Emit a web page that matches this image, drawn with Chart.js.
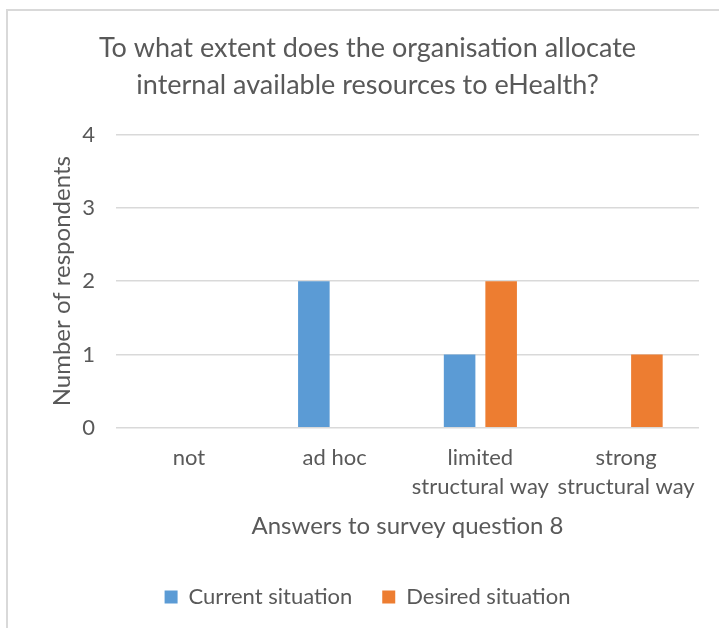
<!DOCTYPE html>
<html>
<head>
<meta charset="utf-8">
<script src="https://cdn.jsdelivr.net/npm/chart.js@4/dist/chart.umd.min.js"></script>
<style>
  html, body { margin: 0; padding: 0; background: #fff; }
  #wrap { position: relative; width: 719px; height: 628px; }
  #frame {
    position: absolute; left: 6px; top: 9px; right: -4px; bottom: -4px;
    border-top: 2px solid #d9d9d9; border-left: 2px solid #d9d9d9;
  }
  canvas { position: absolute; left: 0; top: 0; }
</style>
</head>
<body>
<div id="wrap">
  <div id="frame"></div>
  <canvas id="surveyChart" width="719" height="628"></canvas>
</div>
<script>
const categories = ['not', 'ad hoc', ['limited', 'structural way'], ['strong', 'structural way']];
const currentSituation = [0, 2, 1, 0];
const desiredSituation = [0, 0, 2, 1];
const yTicks = [0, 1, 2, 3, 4];

const textColor = '#595959';
const fontFamily = 'Lato, "Open Sans", sans-serif';

const ctx = document.getElementById('surveyChart');
const surveyChart = new Chart(ctx, {
  type: 'bar',
  data: {
    labels: categories,
    datasets: [
      {
        label: 'Current situation',
        data: currentSituation,
        backgroundColor: '#5B9BD5',
        categoryPercentage: 0.57,
        barPercentage: 0.76,
      },
      {
        label: 'Desired situation',
        data: desiredSituation,
        backgroundColor: '#ED7D31',
        categoryPercentage: 0.57,
        barPercentage: 0.76,
      },
    ],
  },
  options: {
    responsive: false,
    animation: false,
    layout: {
      padding: { left: 36, right: 20, top: 29, bottom: 10 },
    },
    plugins: {
      title: {
        display: true,
        text: ['To what extent does the organisation allocate', 'internal available resources to eHealth?'],
        color: textColor,
        font: { family: fontFamily, size: 27, weight: 'normal', lineHeight: 1.4 },
        padding: { top: 0, bottom: 30 },
      },
      legend: {
        position: 'bottom',
        labels: {
          color: textColor,
          font: { family: fontFamily, size: 22 },
          boxWidth: 13,
          boxHeight: 13,
          padding: 30,
        },
      },
      tooltip: { enabled: false },
    },
    scales: {
      x: {
        grid: { display: false, drawTicks: false },
        border: { display: false },
        ticks: {
          color: textColor,
          font: { family: fontFamily, size: 22, lineHeight: 1.35 },
          maxRotation: 0,
          autoSkip: false,
          padding: 15,
        },
        title: {
          display: true,
          text: 'Answers to survey question 8',
          color: textColor,
          font: { family: fontFamily, size: 24 },
          padding: { top: -5, bottom: 15 },
        },
      },
      y: {
        min: 0,
        max: 4,
        afterBuildTicks: (axis) => {
          axis.ticks = yTicks.map(v => ({ value: v }));
        },
        afterFit: (axis) => {
          axis.width = 80;
        },
        grid: { color: '#D9D9D9', lineWidth: 1.5, drawTicks: false },
        border: { display: false },
        ticks: {
          color: textColor,
          font: { family: fontFamily, size: 22 },
          padding: 21,
        },
        title: {
          display: true,
          text: 'Number of respondents',
          color: textColor,
          font: { family: fontFamily, size: 24 },
          padding: { top: 12, bottom: 6 },
        },
      },
    },
  },
});
</script>
</body>
</html>
